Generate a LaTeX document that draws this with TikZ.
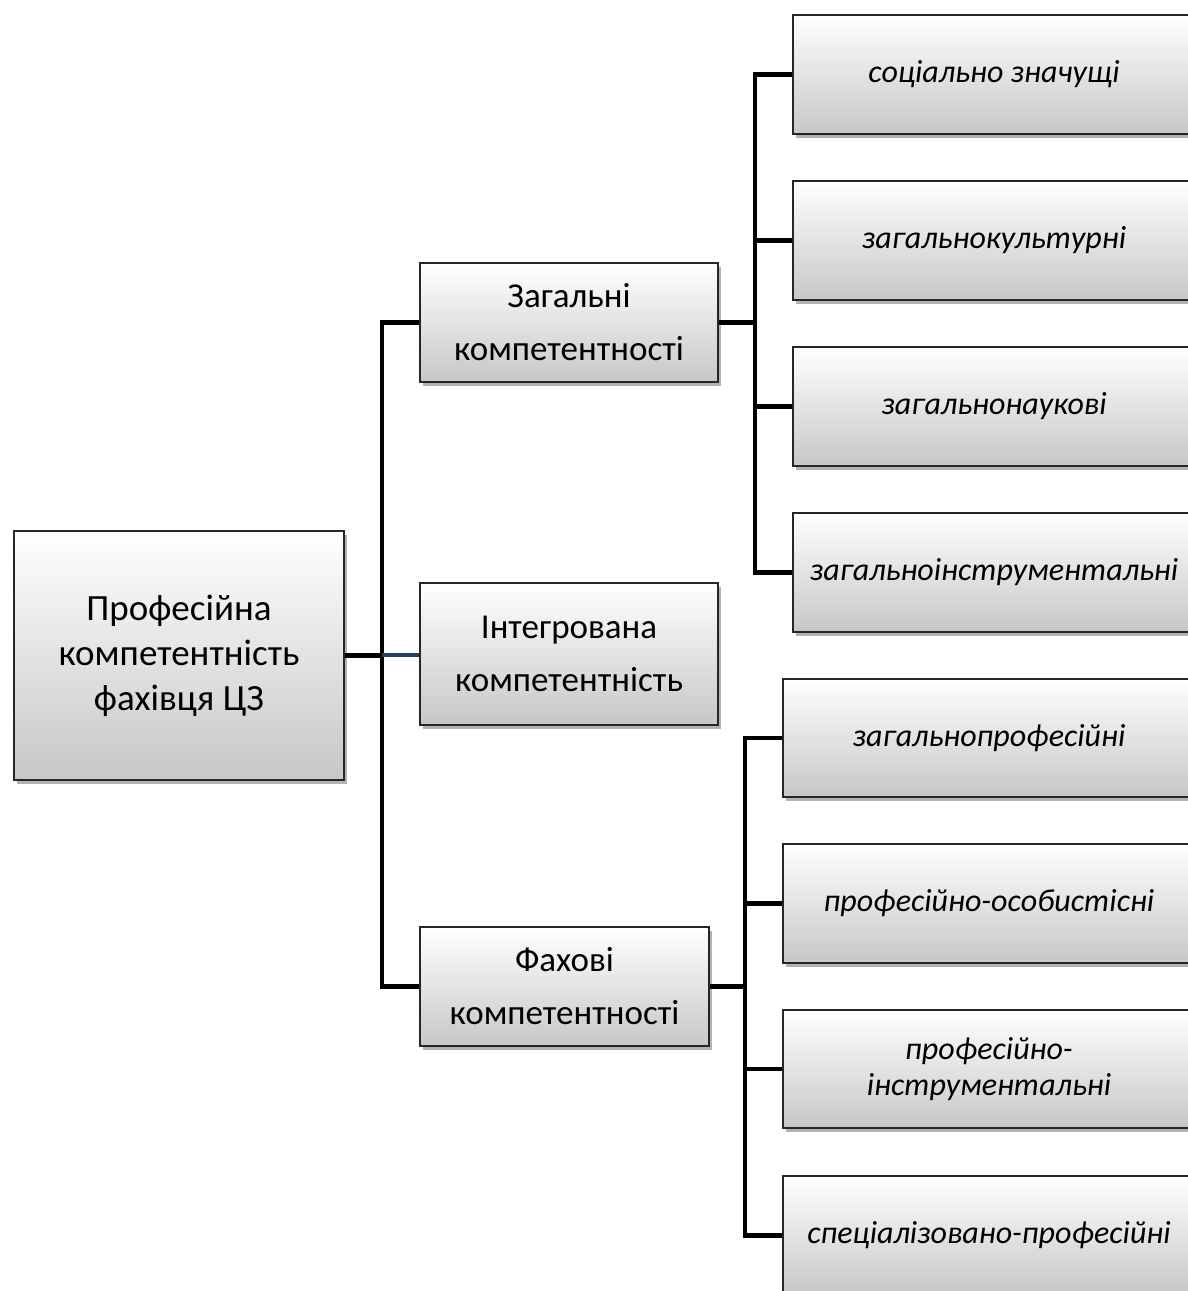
\documentclass[tikz,border=0pt]{standalone}
\usepackage{fontspec}
\setmainfont{Carlito}
\usetikzlibrary{shadows}
\definecolor{navyline}{RGB}{36,64,97}
\tikzset{
  box/.style={draw=black!85, line width=1.6pt, top color=white, bottom color=black!22,
    inner sep=0pt, align=center, font=\fontsize{35}{53}\selectfont,
    drop shadow={shadow xshift=3pt, shadow yshift=-4pt, opacity=0.3, fill=black}},
  leaf/.style={box, font=\fontsize{32}{36}\selectfont\itshape},
  link/.style={line width=4.6pt, black},
}
\begin{document}
\begin{tikzpicture}[x=1pt, y=-1pt]
\clip (0,0) rectangle (1188,1291);
\fill[white] (0,0) rectangle (1188,1291);

% root
\node[box, minimum width=330pt, minimum height=249pt, font=\fontsize{37}{45}\selectfont]
  (root) at (179,655.5) {Професійна\\компетентність\\фахівця ЦЗ};

% second level
\node[box, minimum width=298pt, minimum height=119pt] (zag) at (569,322.5) {Загальні\\компетентності};
\node[box, minimum width=298pt, minimum height=142pt] (int) at (569,654) {Інтегрована\\компетентність};
\node[box, minimum width=289pt, minimum height=119pt] (fah) at (564.5,986.5) {Фахові\\компетентності};

% general competences
\node[leaf, minimum width=402pt, minimum height=119pt] (g1) at (994,74.5) {соціально значущі};
\node[leaf, minimum width=402pt, minimum height=119pt] (g2) at (994,240.5) {загальнокультурні};
\node[leaf, minimum width=402pt, minimum height=119pt] (g3) at (994,406.5) {загальнонаукові};
\node[leaf, minimum width=402pt, minimum height=119pt] (g4) at (994,572.5) {загальноінструментальні};

% professional competences
\node[leaf, minimum width=412pt, minimum height=118pt] (f1) at (989,738) {загальнопрофесійні};
\node[leaf, minimum width=412pt, minimum height=119pt] (f2) at (989,903.5) {професійно-особистісні};
\node[leaf, minimum width=412pt, minimum height=118pt] (f3) at (989,1069) {професійно-\\інструментальні};
\node[leaf, minimum width=412pt, minimum height=119pt] (f4) at (989,1235.5) {спеціалізовано-професійні};

% bus points
\coordinate (b1) at (382,655);
\coordinate (b2) at (755,322.5);
\coordinate (b3) at (745,986.5);

% root to second level
\draw[link] (root.east) -- (root.east -| b1);
\draw[link] (zag.west) -| (b1) |- (fah.west);
\draw[line width=4.6pt, navyline] (b1) -- (b1 -| int.west);

% general branch
\draw[link] (zag.east) -- (b2);
\draw[link] (g1.west) -| (b2) |- (g4.west);
\draw[link] (g2.west) -- (g2.west -| b2);
\draw[link] (g3.west) -- (g3.west -| b2);

% professional branch
\draw[link] (fah.east) -- (b3);
\draw[link] (f1.west) -| (b3) |- (f4.west);
\draw[link] (f2.west) -- (f2.west -| b3);
\draw[link] (f3.west) -- (f3.west -| b3);
\end{tikzpicture}
\end{document}
